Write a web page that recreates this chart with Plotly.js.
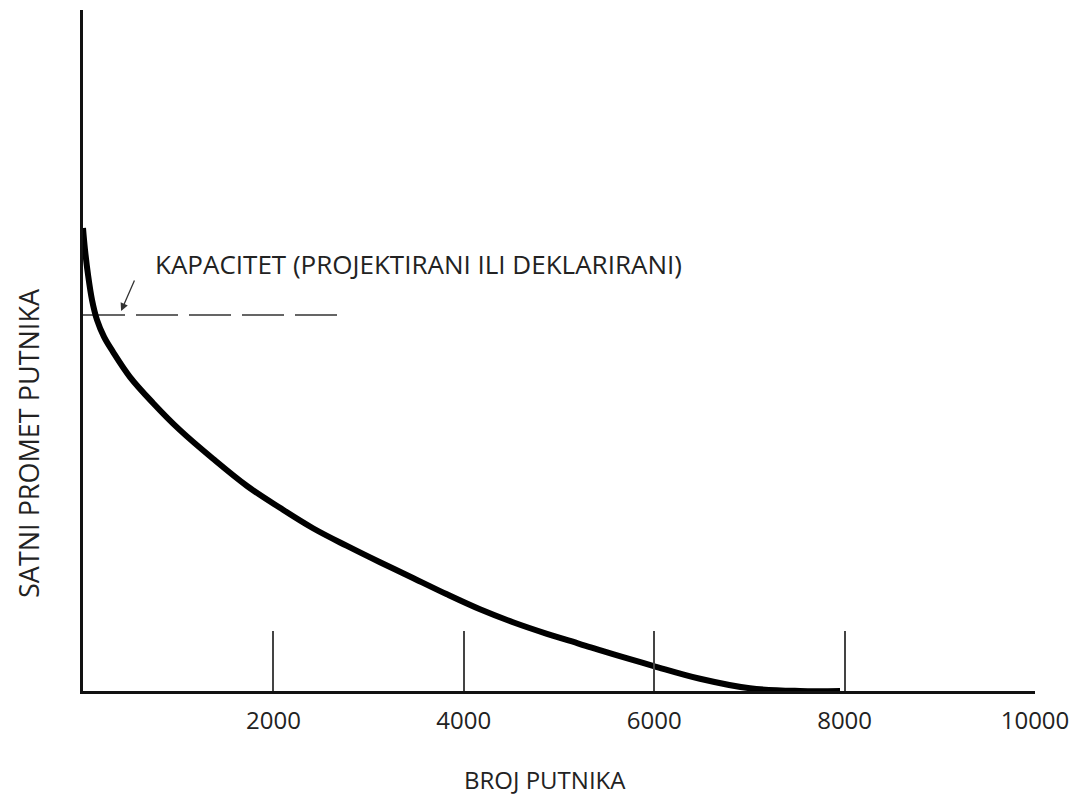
<!DOCTYPE html>
<html>
<head>
<meta charset="utf-8">
<script src="https://cdn.plot.ly/plotly-3.0.1.min.js"></script>
<style>html,body{margin:0;padding:0;background:#fff;}#chart{width:1070px;height:797px;}</style>
</head>
<body>
<div id="chart"></div>
<script>
// Curve: number of passengers vs hourly passenger traffic (y axis has no units shown)
const curveX = [0, 21, 53, 95, 147, 221, 315, 494, 735, 1019, 1366, 1723, 2069, 2416, 2773, 3120, 3466, 3823, 4170, 4517, 4874, 5221, 5567, 5987, 6481, 7006, 7532, 7952];
const curveY = [6.80, 6.48, 6.11, 5.74, 5.45, 5.20, 4.98, 4.61, 4.23, 3.83, 3.41, 3.01, 2.69, 2.39, 2.13, 1.89, 1.66, 1.42, 1.20, 1.01, 0.84, 0.69, 0.54, 0.37, 0.18, 0.04, 0.0, 0.0];
// Capacity line (projected or declared)
const capX = [0, 2720];
const capY = [5.52, 5.52];
const tickVals = [2000, 4000, 6000, 8000, 10000];
const tickText = ["2000", "4000", "6000", "8000", "10000"];
const capLabel = "KAPACITET (PROJEKTIRANI ILI DEKLARIRANI)";
const xTitle = "BROJ PUTNIKA";
const yTitle = "SATNI PROMET PUTNIKA";

const font = "Open Sans, Noto Sans, DejaVu Sans, sans-serif";

const traces = [
  {x: capX, y: capY, mode: "lines", line: {color: "#333", width: 1.5, dash: "42px,11px"}, hoverinfo: "skip"},
  {x: curveX, y: curveY, mode: "lines", line: {color: "#000", width: 6, shape: "spline", smoothing: 1}, hoverinfo: "skip"}
];

const pw = 1070 - 83 - 35, ph = 797 - 10 - 106;

const layout = {
  width: 1070, height: 797,
  margin: {l: 83, r: 35, t: 10, b: 106},
  paper_bgcolor: "#fff", plot_bgcolor: "#fff",
  showlegend: false,
  xaxis: {
    range: [0, 10000], showgrid: false, zeroline: false,
    showline: true, linecolor: "#111", linewidth: 3,
    tickmode: "array", tickvals: tickVals, ticktext: tickText,
    ticks: "inside", ticklen: 60, tickwidth: 2, tickcolor: "#444",
    ticklabelstandoff: 6,
    tickfont: {family: font, size: 24, color: "#222"}
  },
  yaxis: {
    range: [0, 10], showgrid: false, zeroline: false,
    showline: true, linecolor: "#111", linewidth: 3,
    showticklabels: false, ticks: ""
  },
  annotations: [
    {text: capLabel, x: 740, xref: "x", y: 6.27, yref: "y", xanchor: "left", yanchor: "middle", showarrow: false,
     font: {family: font, size: 26, color: "#222"}},
    {text: "", x: 400, xref: "x", y: 5.58, yref: "y", showarrow: true, ax: 14, ay: -32,
     arrowhead: 2, arrowsize: 1.2, arrowwidth: 1.3, arrowcolor: "#333"},
    {text: xTitle, xref: "paper", yref: "paper", x: (545 - 83) / pw, y: (691 - 780) / ph,
     xanchor: "center", yanchor: "middle", showarrow: false, font: {family: font, size: 24, color: "#222"}},
    {text: yTitle, xref: "paper", yref: "paper", x: (28 - 83) / pw, y: (691 - 443) / ph,
     xanchor: "center", yanchor: "middle", textangle: -90, showarrow: false, font: {family: font, size: 27, color: "#222"}}
  ]
};

Plotly.newPlot("chart", traces, layout, {displayModeBar: false, staticPlot: true});
</script>
</body>
</html>
